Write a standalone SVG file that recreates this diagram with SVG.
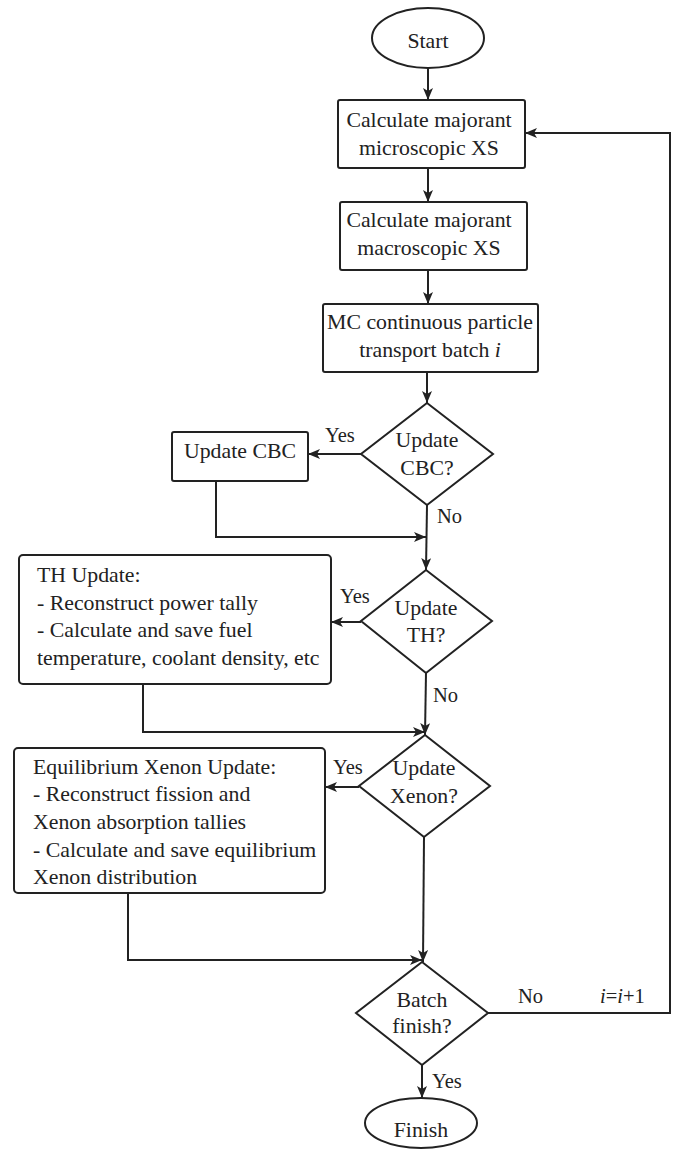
<svg xmlns="http://www.w3.org/2000/svg" width="676" height="1150" viewBox="0 0 676 1150">
<defs>
<marker id="arr" markerUnits="userSpaceOnUse" markerWidth="14" markerHeight="10" refX="12" refY="5" orient="auto">
<path d="M0,0 L12,5 L0,10 L3,5 z" fill="#222"/>
</marker>
<style>
.n{fill:#fff;stroke:#222;stroke-width:2}
.t{font-size:21.8px;fill:#222}
.c{text-anchor:middle}
.l{font-size:20.5px;fill:#222}
.e{fill:none;stroke:#222;stroke-width:2}
.a{marker-end:url(#arr)}
</style>
</defs>
<rect width="676" height="1150" fill="#fff"/>
<g font-family="'Liberation Serif', 'DejaVu Serif', serif">
<g id="connectors">
<line class="e a" x1="428" y1="68" x2="428" y2="100"/>
<line class="e a" x1="428" y1="168" x2="428" y2="202"/>
<line class="e a" x1="428" y1="270" x2="428" y2="304"/>
<line class="e a" x1="427" y1="372" x2="427" y2="403"/>
<line class="e a" x1="361" y1="454" x2="308" y2="454"/>
<polyline class="e a" points="216,481 216,537 426,537"/>
<line class="e a" x1="427" y1="505" x2="426" y2="570"/>
<line class="e a" x1="361" y1="622" x2="331" y2="622"/>
<polyline class="e a" points="143,684 143,732 425,732"/>
<line class="e a" x1="426" y1="673" x2="425" y2="735"/>
<line class="e a" x1="359" y1="787" x2="325" y2="787"/>
<polyline class="e a" points="128,893 128,960 422,960"/>
<line class="e a" x1="424" y1="837" x2="423" y2="962"/>
<polyline class="e a" points="488,1013 670,1013 670,133 525,133"/>
<line class="e a" x1="422" y1="1065" x2="422" y2="1098"/>
<text class="l" x="325" y="442">Yes</text>
<text class="l" x="437" y="523">No</text>
<text class="l" x="340" y="603">Yes</text>
<text class="l" x="433" y="702">No</text>
<text class="l" x="333" y="774">Yes</text>
<text class="l" x="518" y="1003">No</text>
<text class="l" x="600" y="1003"><tspan font-style="italic">i</tspan>=<tspan font-style="italic">i</tspan>+1</text>
<text class="l" x="432" y="1088">Yes</text>
</g>
<g id="start">
<ellipse class="n" cx="428" cy="38" rx="56" ry="30"/>
<text class="t c" x="428" y="48">Start</text>
</g>
<g id="micro">
<rect class="n" x="338" y="100" width="187" height="68" rx="2"/>
<text class="t c" x="429" y="127">Calculate majorant</text>
<text class="t c" x="429" y="155">microscopic XS</text>
</g>
<g id="macro">
<rect class="n" x="340" y="202" width="187" height="68" rx="2"/>
<text class="t c" x="429" y="227">Calculate majorant</text>
<text class="t c" x="429" y="255">macroscopic XS</text>
</g>
<g id="transport">
<rect class="n" x="323" y="304" width="215" height="68" rx="2"/>
<text class="t c" x="430" y="329">MC continuous particle</text>
<text class="t c" x="430" y="357">transport batch <tspan font-style="italic">i</tspan></text>
</g>
<g id="dcbc">
<polygon class="n" points="427,403 493,454 427,505 361,454"/>
<text class="t c" x="427" y="447">Update</text>
<text class="t c" x="427" y="475">CBC?</text>
</g>
<g id="cbc">
<rect class="n" x="172" y="432" width="136" height="49" rx="2"/>
<text class="t c" x="240" y="458">Update CBC</text>
</g>
<g id="dth">
<polygon class="n" points="426,570 492,621 426,673 361,621"/>
<text class="t c" x="426" y="615">Update</text>
<text class="t c" x="426" y="642">TH?</text>
</g>
<g id="th">
<rect class="n" x="19" y="555" width="312" height="129" rx="4"/>
<text class="t" x="37" y="582">TH Update:</text>
<text class="t" x="37" y="610">- Reconstruct power tally</text>
<text class="t" x="37" y="637">- Calculate and save fuel</text>
<text class="t" x="37" y="665">temperature, coolant density, etc</text>
</g>
<g id="dxe">
<polygon class="n" points="425,735 490,786 424,837 359,786"/>
<text class="t c" x="424" y="775">Update</text>
<text class="t c" x="424" y="803">Xenon?</text>
</g>
<g id="xe">
<rect class="n" x="14" y="748" width="311" height="145" rx="4"/>
<text class="t" x="33" y="774">Equilibrium Xenon Update:</text>
<text class="t" x="33" y="801">- Reconstruct fission and</text>
<text class="t" x="33" y="829">Xenon absorption tallies</text>
<text class="t" x="33" y="857">- Calculate and save equilibrium</text>
<text class="t" x="33" y="884">Xenon distribution</text>
</g>
<g id="dbatch">
<polygon class="n" points="422,962 488,1013 422,1065 356,1013"/>
<text class="t c" x="422" y="1007">Batch</text>
<text class="t c" x="422" y="1033">finish?</text>
</g>
<g id="finish">
<ellipse class="n" cx="421" cy="1123" rx="56" ry="25"/>
<text class="t c" x="421" y="1137">Finish</text>
</g>
</g>
</svg>
